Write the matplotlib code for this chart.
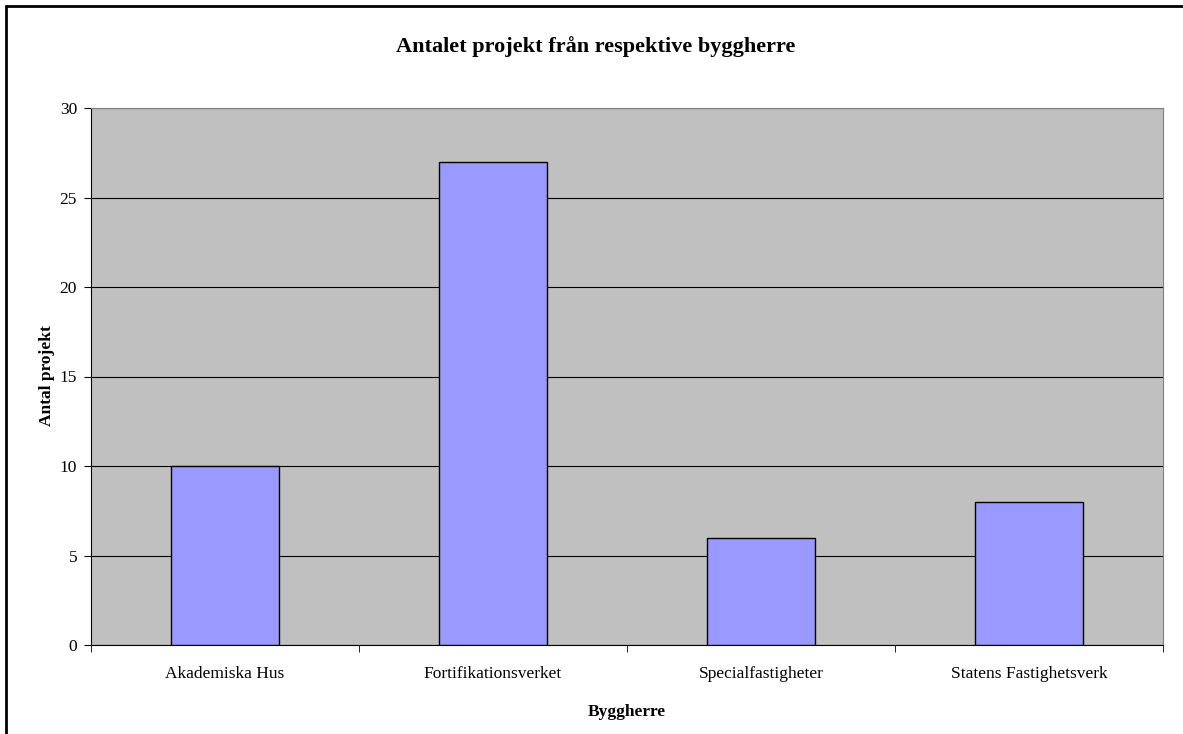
import matplotlib.pyplot as plt
import numpy as np
from matplotlib.patches import Rectangle

# data
categories = ["Akademiska Hus", "Fortifikationsverket", "Specialfastigheter", "Statens Fastighetsverk"]
values = [10, 27, 6, 8]

plt.rcParams['font.family'] = ['Liberation Serif', 'DejaVu Serif']

W, H = 1183, 734
fig = plt.figure(figsize=(W / 100, H / 100), dpi=100)
ax = fig.add_axes([91 / W, (H - 645) / H, (1163 - 91) / W, (645 - 108) / H])

x = np.arange(len(categories))
ax.set_facecolor('#c0c0c0')
ax.bar(x, values, width=0.4, color='#9999ff', edgecolor='black', linewidth=1, zorder=3)

ax.set_xlim(-0.5, len(categories) - 0.5)
ax.set_ylim(0, 30)
ax.set_yticks(np.arange(0, 31, 5))
ax.yaxis.grid(True, color='black', linewidth=0.8, zorder=1)
ax.set_axisbelow(True)

# category labels centred, tick marks at boundaries
ax.set_xticks(x)
ax.set_xticklabels(categories, fontsize=12.5)
ax.tick_params(axis='x', length=0, pad=15)
ax.set_xticks(np.arange(-0.5, len(categories)), minor=True)
ax.tick_params(axis='x', which='minor', length=5, direction='out', color='black')
ax.tick_params(axis='y', labelsize=12.5, length=5, direction='out', pad=5)

for s in ['top', 'right']:
    ax.spines[s].set_color('#808080')
for s in ['left', 'bottom']:
    ax.spines[s].set_color('black')

fig.text(47 / W, 1 - 376 / H, 'Antal projekt', rotation=90, ha='center', va='center',
         fontsize=12.5, fontweight='bold')
fig.text(627 / W, 1 - 712 / H, 'Byggherre', ha='center', va='center',
         fontsize=12.5, fontweight='bold')
fig.text(596 / W, 1 - 47 / H, 'Antalet projekt från respektive byggherre',
         ha='center', va='center', fontsize=16, fontweight='bold')

# outer frame
fig.patches.append(Rectangle((6 / W, -0.1), 1.2, 1 - 6 / H + 0.1, transform=fig.transFigure,
                             fill=False, edgecolor='black', linewidth=2, figure=fig))

fig.savefig('out.png', dpi=100)
